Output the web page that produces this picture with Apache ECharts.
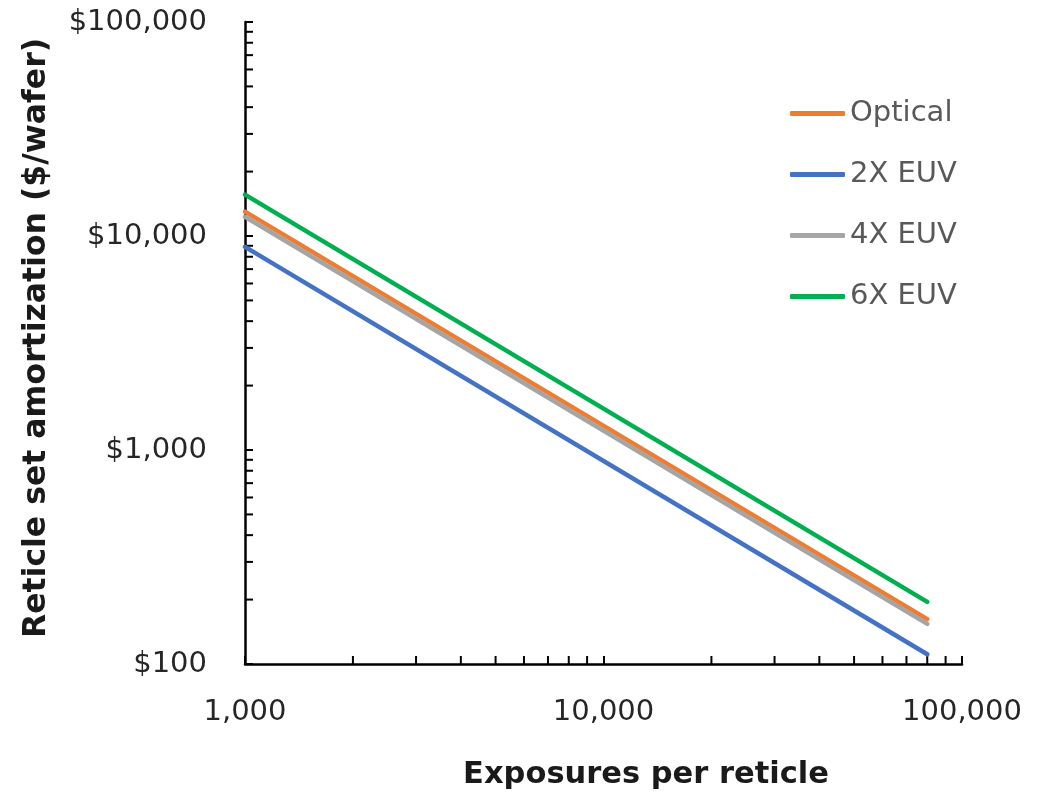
<!DOCTYPE html>
<html>
<head>
<meta charset="utf-8">
<script src="https://cdn.jsdelivr.net/npm/echarts@6/dist/echarts.min.js"></script>
<style>
  html, body { margin: 0; padding: 0; background: #fff; }
  #chart { width: 1038px; height: 792px; }
</style>
</head>
<body>
<div id="chart"></div>
<script>
// Reticle set amortization cost vs. exposures per reticle (log-log)
const seriesNames = ['Optical', '2X EUV', '4X EUV', '6X EUV'];
const seriesColors = ['#ED7D31', '#4472C4', '#A5A5A5', '#00B050'];

// Exposures per reticle at the two ends of each line
const exposures = [1000, 80000];

// $/wafer at those exposure counts
const optical = [13000, 162];
const euv2x = [8900, 111];
const euv4x = [12300, 154];
const euv6x = [15600, 195];

// Minor tick positions on the log axes
const xMinorTicks = [2000, 3000, 4000, 5000, 6000, 7000, 8000, 9000,
  20000, 30000, 40000, 50000, 60000, 70000, 80000, 90000];
const yMinorTicks = [200, 300, 400, 500, 600, 700, 800, 900,
  2000, 3000, 4000, 5000, 6000, 7000, 8000, 9000,
  20000, 30000, 40000, 50000, 60000, 70000, 80000, 90000];

const X_MIN = 1000, X_MAX = 100000, Y_MIN = 100, Y_MAX = 100000;
const FONT = '"DejaVu Sans", sans-serif';
const TICK_LEN = 8;

const valueSets = [optical, euv2x, euv4x, euv6x];

const lineSeries = seriesNames.map((name, i) => ({
  name: name,
  type: 'line',
  data: exposures.map((x, k) => [x, valueSets[i][k]]),
  symbol: 'none',
  showSymbol: false,
  lineStyle: { color: seriesColors[i], width: 4.5, cap: 'round' },
  itemStyle: { color: seriesColors[i] },
  z: 3 + i
}));

// Minor ticks drawn as short strokes through the axis scales
const xTickSeries = {
  type: 'custom',
  silent: true,
  clip: false,
  z: 2,
  data: xMinorTicks.map(v => [v, Y_MIN]),
  renderItem: (params, api) => {
    const p = api.coord([api.value(0), api.value(1)]);
    return {
      type: 'line',
      shape: { x1: p[0], y1: p[1], x2: p[0], y2: p[1] - TICK_LEN },
      style: { stroke: '#000', lineWidth: 2 }
    };
  }
};
const yTickSeries = {
  type: 'custom',
  silent: true,
  clip: false,
  z: 2,
  data: yMinorTicks.map(v => [X_MIN, v]),
  renderItem: (params, api) => {
    const p = api.coord([api.value(0), api.value(1)]);
    return {
      type: 'line',
      shape: { x1: p[0], y1: p[1], x2: p[0] + TICK_LEN, y2: p[1] },
      style: { stroke: '#000', lineWidth: 2 }
    };
  }
};

const chart = echarts.init(document.getElementById('chart'), null, { renderer: 'canvas' });

chart.setOption({
  animation: false,
  backgroundColor: '#fff',
  grid: { left: 245, right: 76, top: 22, bottom: 128 },
  xAxis: {
    type: 'log',
    logBase: 10,
    min: X_MIN,
    max: X_MAX,
    axisLine: { show: true, lineStyle: { color: '#000', width: 2.5 } },
    axisTick: { show: true, inside: true, length: TICK_LEN, lineStyle: { color: '#000', width: 2 } },
    splitLine: { show: false },
    axisLabel: {
      margin: 34,
      fontFamily: FONT,
      fontSize: 29,
      color: '#262626',
      formatter: v => Number(v).toLocaleString('en-US')
    }
  },
  yAxis: {
    type: 'log',
    logBase: 10,
    min: Y_MIN,
    max: Y_MAX,
    axisLine: { show: true, lineStyle: { color: '#000', width: 2.5 } },
    axisTick: { show: true, inside: true, length: TICK_LEN, lineStyle: { color: '#000', width: 2 } },
    splitLine: { show: false },
    axisLabel: {
      margin: 38,
      fontFamily: FONT,
      fontSize: 29,
      color: '#262626',
      formatter: v => '$' + Number(v).toLocaleString('en-US')
    }
  },
  legend: {
    data: seriesNames.map((n, i) => ({
      name: n,
      icon: 'roundRect',
      itemStyle: { color: seriesColors[i] }
    })),
    orient: 'vertical',
    left: 785,
    top: 94,
    itemWidth: 55,
    itemHeight: 5,
    itemGap: 32,
    textStyle: { fontFamily: FONT, fontSize: 29, color: '#595959' }
  },
  graphic: [
    {
      type: 'text',
      x: 646,
      y: 775,
      style: {
        text: 'Exposures per reticle',
        font: 'bold 30.5px "DejaVu Sans", sans-serif',
        fill: '#1a1a1a',
        textAlign: 'center',
        textVerticalAlign: 'middle'
      }
    },
    {
      type: 'text',
      x: 37,
      y: 338,
      rotation: Math.PI / 2,
      style: {
        text: 'Reticle set amortization ($/wafer)',
        font: 'bold 31.5px "DejaVu Sans", sans-serif',
        fill: '#1a1a1a',
        textAlign: 'center',
        textVerticalAlign: 'middle'
      }
    }
  ],
  series: lineSeries.concat([xTickSeries, yTickSeries])
});
</script>
</body>
</html>
